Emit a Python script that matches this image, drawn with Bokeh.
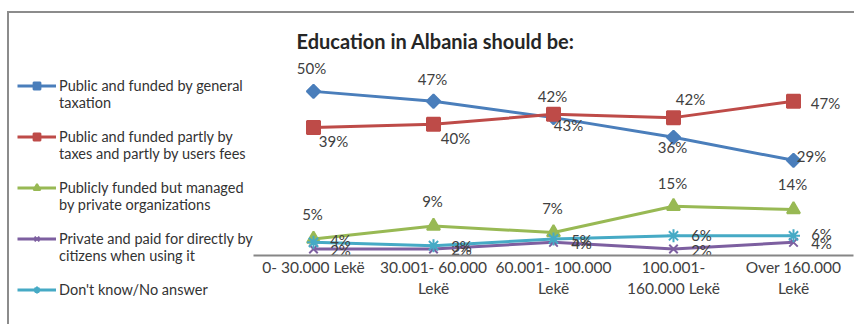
from bokeh.plotting import figure
from bokeh.models import Legend, LegendItem, FactorRange, Range1d, ColumnDataSource
from bokeh.layouts import row
from bokeh.core.properties import value
from bokeh.embed import file_html
from bokeh.resources import INLINE

# ---------------- data ----------------
categories = ["0- 30.000 Lekë", "30.001- 60.000\nLekë", "60.001- 100.000\nLekë",
              "100.001-\n160.000 Lekë", "Over 160.000\nLekë"]
series_names = [
    "Public and funded by general\ntaxation",
    "Public and funded partly by\ntaxes and partly by users fees",
    "Publicly funded but managed\nby private organizations",
    "Private and paid for directly by\ncitizens when using it",
    "Don't know/No answer",
]
public_general = [50, 47, 42, 36, 29]
public_partly = [39, 40, 43, 42, 47]
publicly_private = [5, 9, 7, 15, 14]
private_paid = [2, 2, 4, 2, 4]
dont_know = [4, 3, 5, 6, 6]
title_text = "Education in Albania should be:"

# ---------------- styling ----------------
colors = ["#4A7EBB", "#BE4B48", "#98B954", "#7D5FA0", "#46AAC5"]
markers = ["square", "square", "triangle", "x", "asterisk"]
marker_sizes = [9.5, 13, 13, 12, 13]
marker_angles = [0.785398, 0, 0, 0, 0]
# data label offsets (px) per series, per point
label_dx = [[-2, -1, -1, -1, 18],
            [20, 22, 15, 17, 32],
            [-1, -1, -1, -1, -1],
            [27, 28, 28, 28, 28],
            [27, 28, 28, 28, 28]]
label_dy = [[-23, -22, -22, 10, -4],
            [14, 14, 11, -19, 2],
            [-25, -25, -25, -23, -26],
            [1, 0, 1, 1, 1],
            [-2, 0, 1, -1, -2]]

FONT = "Lato"
values = [public_general, public_partly, publicly_private, private_paid, dont_know]

# ---------------- chart ----------------
p = figure(x_range=FactorRange(*categories, range_padding=0, factor_padding=0),
           y_range=Range1d(0, 59.1),
           width=601, height=311,
           min_border_left=0, min_border_right=1,
           min_border_top=48, min_border_bottom=69,
           output_backend="svg", toolbar_location=None)
p.frame_align = False

p.title.text = title_text
p.title.align = "left"
p.title.offset = 43
p.title.text_font = FONT
p.title.text_font_size = "20px"
p.title.text_font_style = "bold"
p.title.text_color = "#262626"
p.title.standoff = 18

p.outline_line_color = None
p.xgrid.visible = False
p.ygrid.visible = False
p.yaxis.visible = False
p.xaxis.axis_line_color = "#868686"
p.xaxis.axis_line_width = 2
p.xaxis.major_tick_line_color = None
p.xaxis.minor_tick_line_color = None
p.xaxis.major_tick_out = 0
p.xaxis.major_tick_in = 0
p.xaxis.major_label_text_font = FONT
p.xaxis.major_label_text_font_size = "15.5px"
p.xaxis.major_label_text_color = "#404040"
p.xaxis.major_label_text_line_height = 1.2
p.xaxis.major_label_standoff = 2

# ---------------- legend panel ----------------
# same categories, but a value window that shows none of the series: only the legend is seen
lg = figure(x_range=FactorRange(*categories), y_range=Range1d(-2, -1),
            width=244, height=311,
            min_border_left=0, min_border_right=0, min_border_top=0, min_border_bottom=0,
            x_axis_location=None, y_axis_location=None,
            output_backend="svg", toolbar_location=None)
lg.frame_align = False
lg.outline_line_color = None
lg.grid.visible = False
blank = lg.line(x=[], y=[], line_alpha=0)

items = []
for i, vals in enumerate(values):
    p.line(categories, vals, line_width=3, color=colors[i])
    p.scatter(categories, vals, marker=markers[i], size=marker_sizes[i],
              angle=marker_angles[i], color=colors[i], line_width=2)
    src = ColumnDataSource(dict(x=categories, y=vals, t=[f"{v}%" for v in vals],
                                dx=label_dx[i], dy=label_dy[i]))
    p.text(x="x", y="y", text="t", x_offset="dx", y_offset="dy", source=src,
           text_font=value(FONT), text_font_size="15px", text_color="#404040",
           text_align="center", text_baseline="middle")
    # legend proxies (same series and style, outside the legend panel's window)
    lr = lg.line(categories, vals, line_width=3, color=colors[i])
    mr = lg.scatter(categories, vals, marker=markers[i], size=marker_sizes[i],
                    angle=marker_angles[i], color=colors[i], line_width=2)
    lines = series_names[i].split("\n")
    if i > 0:
        items.append(LegendItem(label=" ", renderers=[blank]))
    items.append(LegendItem(label=lines[0], renderers=[lr, mr]))
    for extra in lines[1:]:
        items.append(LegendItem(label=extra, renderers=[blank]))

legend = Legend(items=items, location="top_left")
legend.title = " "
legend.title_text_font_size = "1px"
legend.title_standoff = 55
legend.glyph_width = 39
legend.glyph_height = 17
legend.label_height = 17
legend.label_standoff = 3
legend.padding = 0
legend.margin = 8
legend.spacing = 0
legend.border_line_color = None
legend.background_fill_alpha = 0
legend.label_text_font = FONT
legend.label_text_font_size = "14.5px"
legend.label_text_color = "#333333"
legend.label_text_line_height = 0.85
lg.add_layout(legend)

layout = row(lg, p, spacing=0)
layout.styles = {"margin-left": "7px", "margin-top": "11px",
                 "border-left": "2px solid #8c8c8c", "border-top": "2px solid #8c8c8c"}

open("out.html", "w").write(file_html(layout, INLINE))
